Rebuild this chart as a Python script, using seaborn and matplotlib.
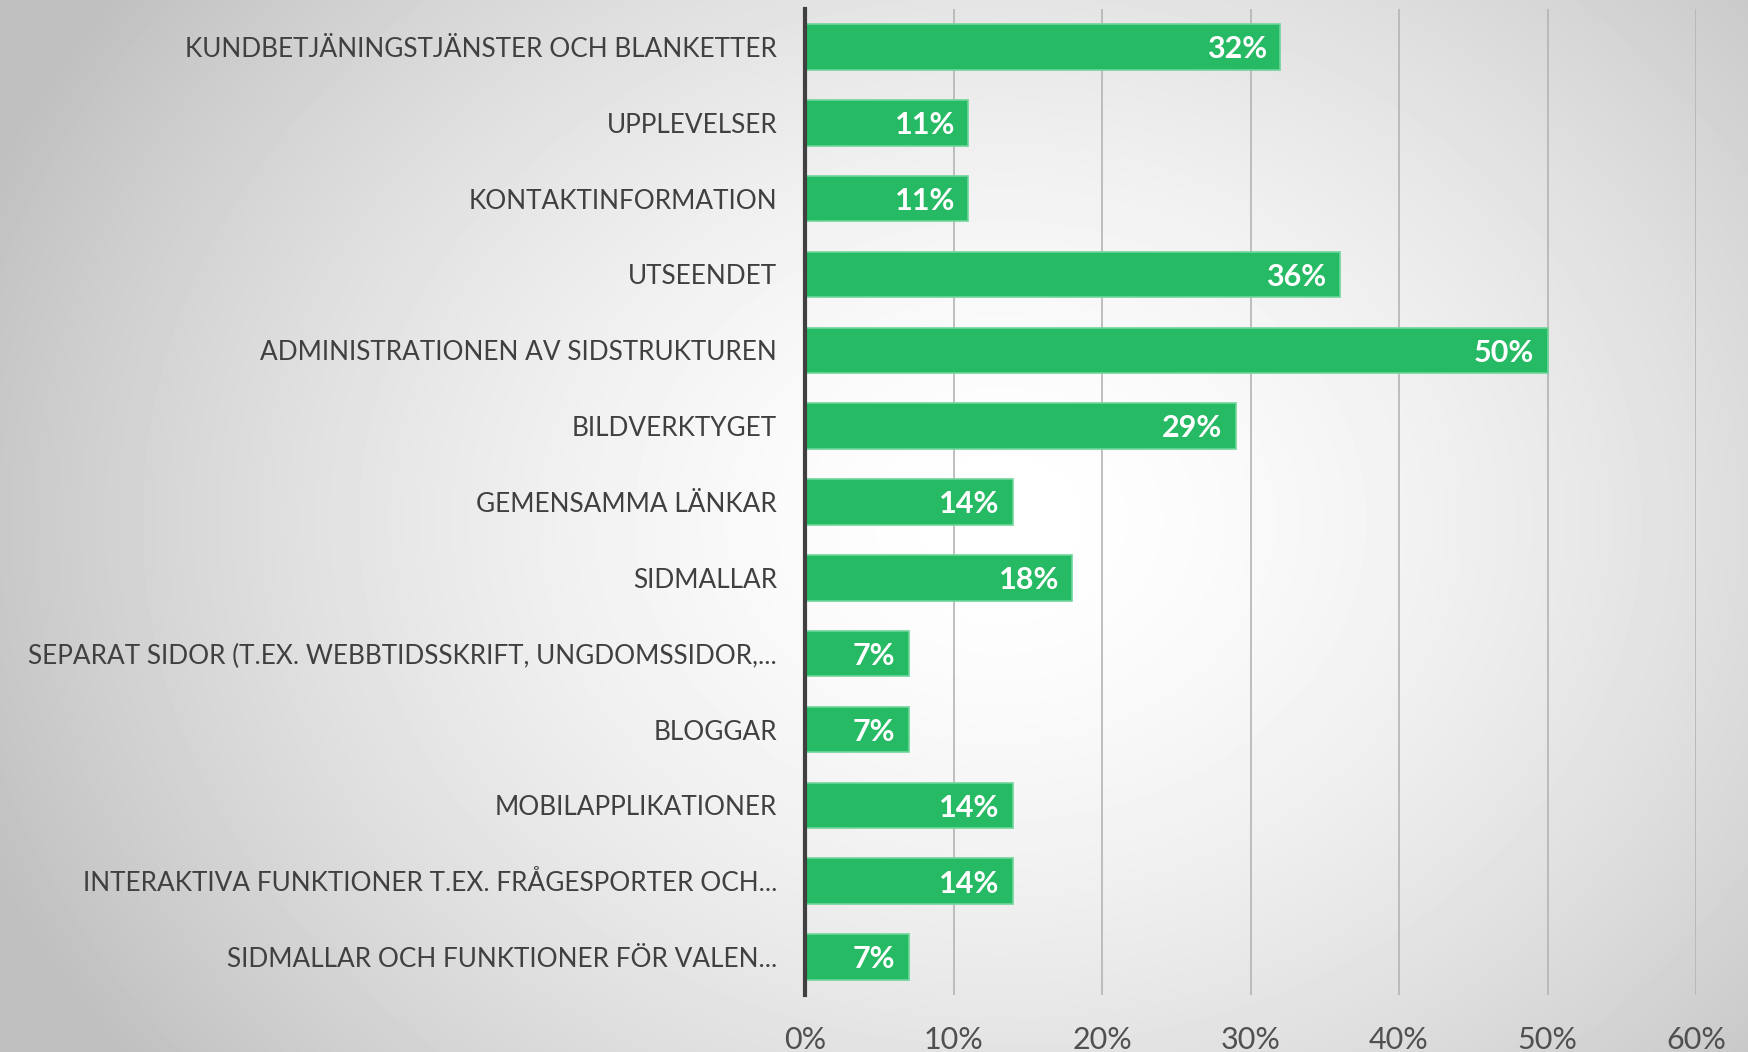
import numpy as np
import pandas as pd
import seaborn as sns
import matplotlib.pyplot as plt
from matplotlib.ticker import PercentFormatter

# data
categories = [
    "KUNDBETJÄNINGSTJÄNSTER OCH BLANKETTER",
    "UPPLEVELSER",
    "KONTAKTINFORMATION",
    "UTSEENDET",
    "ADMINISTRATIONEN AV SIDSTRUKTUREN",
    "BILDVERKTYGET",
    "GEMENSAMMA LÄNKAR",
    "SIDMALLAR",
    "SEPARAT SIDOR (T.EX. WEBBTIDSSKRIFT, UNGDOMSSIDOR,...",
    "BLOGGAR",
    "MOBILAPPLIKATIONER",
    "INTERAKTIVA FUNKTIONER T.EX. FRÅGESPORTER OCH...",
    "SIDMALLAR OCH FUNKTIONER FÖR VALEN...",
]
values = [32, 11, 11, 36, 50, 29, 14, 18, 7, 7, 14, 14, 7]
xticks = [0, 10, 20, 30, 40, 50, 60]

df = pd.DataFrame({"cat": categories, "val": values})

sns.set_theme(style="white")
plt.rcParams["font.family"] = ["Lato", "DejaVu Sans"]

fig = plt.figure(figsize=(17.48, 10.52), dpi=100)

# radial grey-to-white background
bg = fig.add_axes([0, 0, 1, 1], zorder=-5)
yy, xx = np.mgrid[0:1052, 0:1748]
r = np.sqrt(((xx - 1000) / 1100.0) ** 2 + ((yy - 520) / 900.0) ** 2)
shade = np.clip(1.0 - 0.25 * r ** 1.6, 0.75, 1.0)
bg.imshow(shade, cmap="gray", vmin=0, vmax=1, aspect="auto")
bg.axis("off")

ax = fig.add_axes([805 / 1748, 1 - 995 / 1052, (1696 - 805) / 1748, (995 - 9) / 1052])
ax.set_facecolor("none")

sns.barplot(data=df, x="val", y="cat", orient="h", color="#27BA64", saturation=1,
            width=0.6, edgecolor="#6FD59A", linewidth=1.2, ax=ax, zorder=3)

for i, v in enumerate(values):
    ax.text(v - 0.9, i + 0.03, f"{v}%", ha="right", va="center", color="white",
            fontsize=22, fontweight="bold", zorder=4)

ax.set_xlim(0, 60)
ax.set_ylim(12.5, -0.5)
ax.set_xticks(xticks)
ax.xaxis.set_major_formatter(PercentFormatter(decimals=0))
ax.grid(axis="x", color="#b4b4b4", linewidth=1.2, zorder=0)
ax.set_axisbelow(True)
for s in ["top", "right", "bottom"]:
    ax.spines[s].set_visible(False)
ax.spines["left"].set_color("#404040")
ax.spines["left"].set_linewidth(3)
ax.spines["left"].set_zorder(5)
ax.set_xlabel("")
ax.set_ylabel("")
ax.tick_params(axis="y", length=0, pad=20, labelsize=18.8, labelcolor="#404040")
ax.tick_params(axis="x", length=0, pad=22, labelsize=22, labelcolor="#505050")

fig.savefig("out.png", dpi=100)
